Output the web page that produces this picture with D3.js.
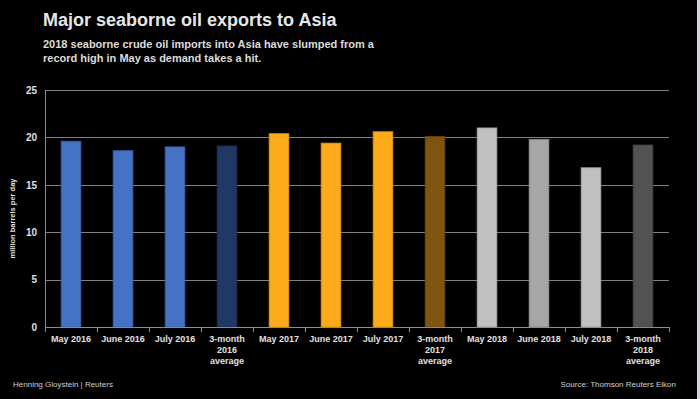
<!DOCTYPE html>
<html>
<head>
<meta charset="utf-8">
<script src="https://cdn.jsdelivr.net/npm/d3@7"></script>
<style>
  body { margin: 0; background: #000; }
  svg { display: block; font-family: "Liberation Sans", Arial, sans-serif; }
</style>
</head>
<body>
<div id="chart"></div>
<script>
var svgWidth = 700;
var svgHeight = 399;

var margin = { top: 90, right: 31, bottom: 72, left: 45 };
var width = svgWidth - margin.left - margin.right;
var height = svgHeight - margin.top - margin.bottom;

// data
var categories = ["May 2016", "June 2016", "July 2016", "3-month 2016 average",
    "May 2017", "June 2017", "July 2017", "3-month 2017 average",
    "May 2018", "June 2018", "July 2018", "3-month 2018 average"];
var values = [19.6, 18.6, 19.0, 19.1, 20.4, 19.4, 20.6, 20.1, 21.0, 19.8, 16.8, 19.2];
var barColors = ["#4472c4", "#4472c4", "#4472c4", "#203864",
    "#fdaa1b", "#fdaa1b", "#fdaa1b", "#7f5410",
    "#c0c0c0", "#a6a6a6", "#c0c0c0", "#525252"];
var yTicks = [0, 5, 10, 15, 20, 25];

var svg = d3.select("#chart")
    .append("svg")
    .attr("width", svgWidth)
    .attr("height", svgHeight);

svg.append("rect")
    .attr("width", svgWidth)
    .attr("height", svgHeight)
    .attr("fill", "#000");

// light strip on the right edge
svg.append("rect")
    .attr("x", 697)
    .attr("width", 3)
    .attr("height", svgHeight)
    .attr("fill", "#d3d6dd");

// titles
svg.append("text")
    .attr("x", 43)
    .attr("y", 26)
    .attr("fill", "#e6e6e6")
    .style("font-size", "18px")
    .style("font-weight", "bold")
    .text("Major seaborne oil exports to Asia");

var sub = svg.append("text")
    .attr("x", 43)
    .attr("fill", "#dcdcdc")
    .style("font-size", "11px")
    .style("font-weight", "bold");
sub.append("tspan").attr("x", 43).attr("y", 48)
    .text("2018 seaborne crude oil imports into Asia have slumped from a");
sub.append("tspan").attr("x", 43).attr("y", 62)
    .text("record high in May as demand takes a hit.");

var chartGroup = svg.append("g")
    .attr("transform", `translate(${margin.left}, ${margin.top})`);

var xScale = d3.scaleBand()
    .domain(categories)
    .range([0, width])
    .paddingInner(0.62)
    .paddingOuter(0.31);

var xBoundary = d3.scaleBand()
    .domain(categories)
    .range([0, width]);

var yScale = d3.scaleLinear()
    .domain([0, 25])
    .range([height, 0]);

// gridlines
chartGroup.append("g")
    .selectAll("line")
    .data(yTicks.filter(d => d > 0))
    .enter()
    .append("line")
    .attr("x1", 0)
    .attr("x2", width)
    .attr("y1", d => Math.round(yScale(d)) + 0.5)
    .attr("y2", d => Math.round(yScale(d)) + 0.5)
    .attr("stroke", "#808080")
    .attr("stroke-width", 1);

// bars
chartGroup.selectAll("rect.bar")
    .data(values)
    .enter()
    .append("rect")
    .attr("class", "bar")
    .attr("x", (d, i) => xScale(categories[i]))
    .attr("y", d => yScale(d))
    .attr("width", xScale.bandwidth())
    .attr("height", d => height - yScale(d))
    .attr("fill", (d, i) => barColors[i])
    .attr("stroke", (d, i) => d3.color(barColors[i]).darker(0.6))
    .attr("stroke-width", 0.8);

// left axis
var leftAxis = d3.axisLeft(yScale).tickValues(yTicks).tickSize(0).tickPadding(8);
var yAxisG = chartGroup.append("g").call(leftAxis);
yAxisG.select(".domain").attr("stroke", "#8c8c8c");
yAxisG.selectAll("text")
    .attr("fill", "#e0e0e0")
    .style("font-size", "10px")
    .style("font-weight", "bold")
    .style("font-family", "Liberation Sans, Arial, sans-serif");

// bottom axis: ticks at category boundaries
chartGroup.append("line")
    .attr("x1", 0)
    .attr("x2", width)
    .attr("y1", height + 0.5)
    .attr("y2", height + 0.5)
    .attr("stroke", "#8c8c8c");

chartGroup.append("g")
    .selectAll("line")
    .data(categories.concat(["end"]))
    .enter()
    .append("line")
    .attr("x1", (d, i) => Math.round(i * xBoundary.step()) + 0.5)
    .attr("x2", (d, i) => Math.round(i * xBoundary.step()) + 0.5)
    .attr("y1", height)
    .attr("y2", height + 5)
    .attr("stroke", "#8c8c8c");

var xLabels = chartGroup.append("g")
    .selectAll("text")
    .data(categories)
    .enter()
    .append("text")
    .attr("x", d => xBoundary(d) + xBoundary.bandwidth() / 2)
    .attr("y", height + 15)
    .attr("text-anchor", "middle")
    .attr("fill", "#e0e0e0")
    .style("font-size", "9px")
    .style("font-weight", "bold");

xLabels.each(function (d) {
    var lines = d.startsWith("3-month") ? ["3-month", d.split(" ")[1], "average"] : [d];
    var t = d3.select(this);
    lines.forEach(function (l, k) {
        t.append("tspan")
            .attr("x", xBoundary(d) + xBoundary.bandwidth() / 2)
            .attr("dy", k === 0 ? 0 : 11)
            .text(l);
    });
});

// axis title
chartGroup.append("text")
    .attr("transform", "rotate(-90)")
    .attr("x", -(yScale(12.5) + 10))
    .attr("y", -30)
    .attr("text-anchor", "middle")
    .attr("fill", "#e0e0e0")
    .style("font-size", "7.5px")
    .style("font-weight", "bold")
    .text("million barrels per day");

// footer
svg.append("text")
    .attr("x", 13)
    .attr("y", 387)
    .attr("fill", "#d0d0d0")
    .style("font-size", "8px")
    .text("Henning Gloystein | Reuters");

svg.append("text")
    .attr("x", 676)
    .attr("y", 387)
    .attr("text-anchor", "end")
    .attr("fill", "#d0d0d0")
    .style("font-size", "8px")
    .text("Source: Thomson Reuters Eikon");
</script>
</body>
</html>
